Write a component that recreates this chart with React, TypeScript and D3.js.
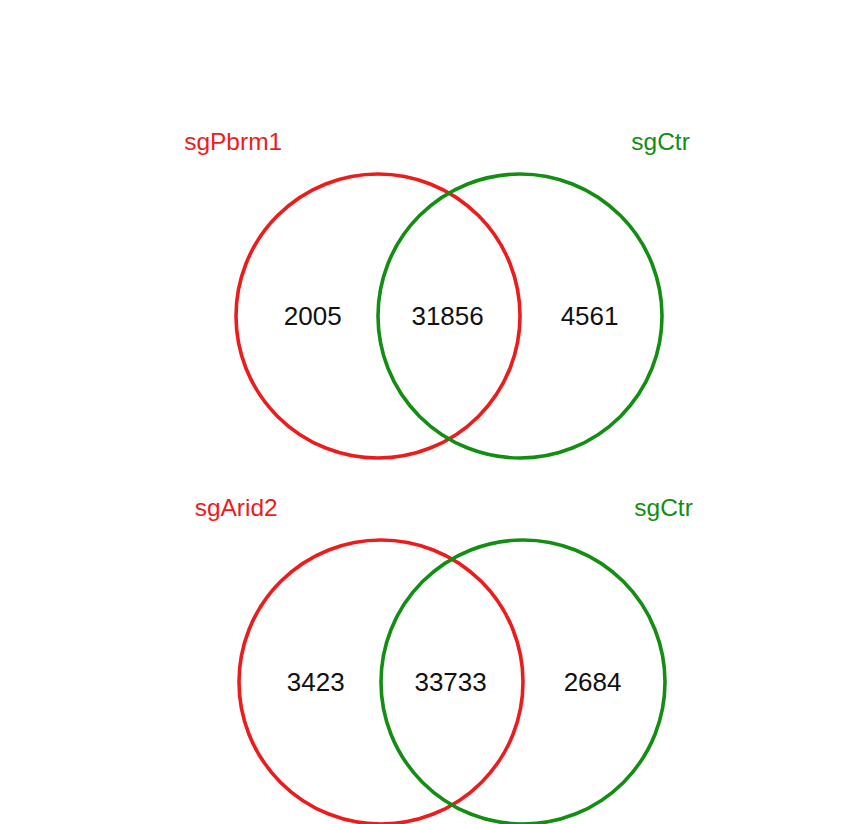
import * as d3 from 'd3';

const setNames = [
  ['sgPbrm1', 'sgCtr'],
  ['sgArid2', 'sgCtr'],
];
const onlyLeft = [2005, 3423];
const shared = [31856, 33733];
const onlyRight = [4561, 2684];

const RED = '#ec1c1c';
const GREEN = '#138e13';

const width = 846;
const height = 824;

// layout in diagram units: circle radius 1, centres 1 apart
const x = d3.scaleLinear().domain([-1, 2]).range([0, 426]);
const y = d3.scaleLinear().domain([-1, 1]).range([0, 284]);

const panels = [
  { dx: 236, dy: 174 },
  { dx: 239, dy: 540 },
];

export default function App() {
  return (
    <svg
      width={width}
      height={height}
      style={{ position: 'absolute', left: 0, top: 0, background: '#fff' }}
      fontFamily='Liberation Sans, Arial, sans-serif'
    >
      {panels.map((p, i) => {
        const r = x(1) - x(0);
        const counts = [onlyLeft[i], shared[i], onlyRight[i]];
        const countX = [x(-0.46), x(0.49), x(1.49)];
        return (
          <g key={i} transform={`translate(${p.dx},${p.dy})`}>
            <circle cx={x(0)} cy={y(0)} r={r} fill='none' stroke={RED} strokeWidth={3.6} />
            <circle cx={x(1)} cy={y(0)} r={r} fill='none' stroke={GREEN} strokeWidth={3.6} />
            {counts.map((c, j) => (
              <text
                key={j}
                x={countX[j]}
                y={y(0)}
                dy='0.36em'
                textAnchor='middle'
                fontSize={26}
                fill='#111'
              >
                {c}
              </text>
            ))}
            <text x={x(-1.02)} y={y(-1.17)} textAnchor='middle' fontSize={24.5} fill={RED}>
              {setNames[i][0]}
            </text>
            <text x={x(1.99)} y={y(-1.17)} textAnchor='middle' fontSize={24.5} fill={GREEN}>
              {setNames[i][1]}
            </text>
          </g>
        );
      })}
    </svg>
  );
}
